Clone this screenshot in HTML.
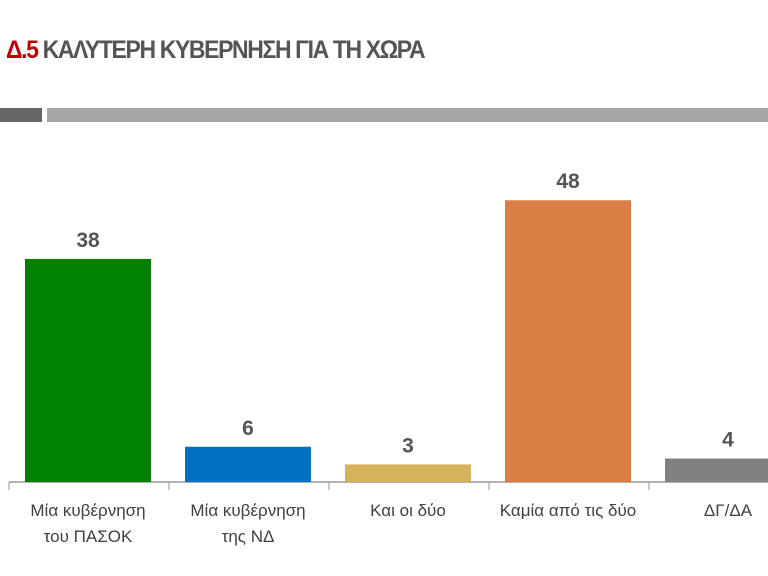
<!DOCTYPE html>
<html><head><meta charset="utf-8"><style>
body{margin:0;width:768px;height:576px;background:#fff;overflow:hidden;font-family:"Liberation Sans",sans-serif}
</style></head><body>
<div style="position:absolute;left:6px;top:36px;font-size:25px;font-weight:bold;color:#555;letter-spacing:-1.5px;transform:scaleX(0.92);transform-origin:left"><span style="color:#c00000">Δ.5</span> ΚΑΛΥΤΕΡΗ ΚΥΒΕΡΝΗΣΗ ΓΙΑ ΤΗ ΧΩΡΑ</div>
<div style="position:absolute;left:0;top:108px;width:42px;height:14px;background:#666"></div>
<div style="position:absolute;left:47px;top:108px;width:721px;height:14px;background:#a6a6a6"></div>
<svg id="chart" width="768" height="576" style="position:absolute;left:0;top:0"></svg>
<script>
const categories=[["Μία κυβέρνηση","του ΠΑΣΟΚ"],["Μία κυβέρνηση","της ΝΔ"],["Και οι δύο"],["Καμία από τις δύο"],["ΔΓ/ΔΑ"]];
const values=[38,6,3,48,4];
const colors=["#008000","#0070c0","#d6b35a","#dc7f46","#808080"];
const NS="http://www.w3.org/2000/svg",svg=document.getElementById("chart");
const x0=9,slot=160,baseY=482,scale=5.87,barW=126,off=16;
const X=i=>x0+i*slot,Y=v=>baseY-v*scale;
function mk(t,a){const e=document.createElementNS(NS,t);for(const k in a)e.setAttribute(k,a[k]);svg.appendChild(e);return e;}
const ax=mk("line",{x1:x0,x2:768,y1:baseY,y2:baseY,stroke:"#999","stroke-width":1.5});


values.forEach((v,i)=>{
 const r=mk("rect",{x:X(i)+off,y:Y(v),width:barW,height:v*scale,fill:colors[i]});
 
 
 const t=mk("text",{x:X(i)+off+barW/2,y:Y(v)-12,"text-anchor":"middle","font-size":21,"font-weight":"bold",fill:"#555"});
 t.textContent=v;
 
 
 const tk=mk("line",{x1:X(i),x2:X(i),y1:baseY,y2:baseY+8,stroke:"#999"});
 
 
 categories[i].forEach((l,j)=>{
  const c=mk("text",{x:X(i)+off+barW/2,y:516+j*26,"text-anchor":"middle","font-size":17,fill:"#404040"});
  c.textContent=l;
  
  
 });
});
</script>
</body></html>
